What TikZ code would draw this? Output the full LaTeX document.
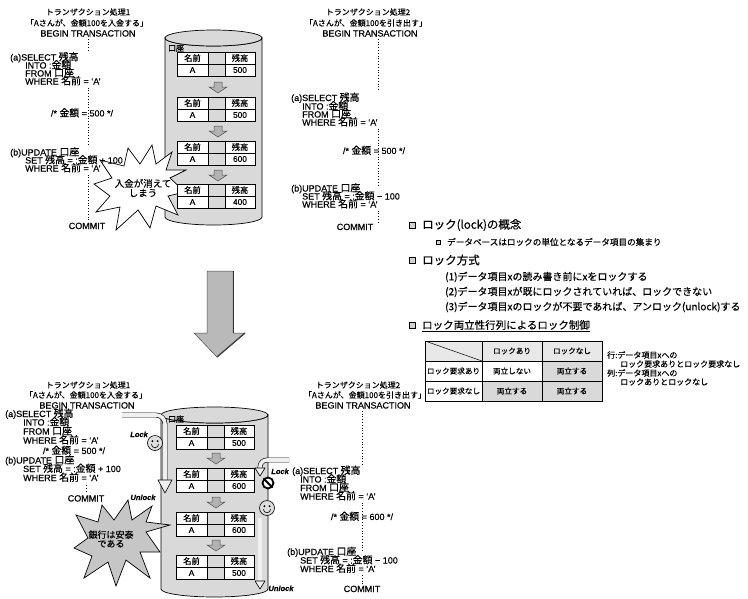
\documentclass[tikz,border=0pt]{standalone}
\usepackage{fontspec}
\setmainfont{Liberation Sans}[FakeBold=0.4]
\newfontfamily\jpf{Noto Sans CJK JP}[FakeBold=0.4]
\newfontfamily\jpcf{Noto Sans CJK JP}[Scale=1.1,FakeBold=0.4]
\newcommand\jcd[1]{{\jpcf #1}}
\newcommand\fsz[1]{\fontsize{#1}{#1}\selectfont}
\usetikzlibrary{calc}

\tikzset{
  code/.style={anchor=base west, inner sep=0pt, font=\fsz{9}},
  codemid/.style={anchor=base, inner sep=0pt, font=\fsz{9}},
  head/.style={anchor=base, inner sep=0pt, font=\jpf\fsz{8}},
  headlat/.style={anchor=base, inner sep=0pt, font=\fsz{9}},
  timeline/.style={line width=1pt, dash pattern=on 1pt off 1.8pt},
  drum/.style={fill=gray!30, draw=black, line width=0.7pt},
  tbl/.style={draw=black, line width=0.6pt},
  cell/.style={inner sep=0pt, font=\jpf\fsz{8.3}},
  celllat/.style={inner sep=0pt, font=\fsz{8.3}},
  tiny arrow/.style={fill=gray!60, draw=black!70, line width=0.5pt},
  burst/.style={draw=black, line width=0.7pt, line join=miter},
  bursttext/.style={inner sep=0pt, font=\jpf\fsz{9.5}, align=center},
  tube/.style={draw=black, double=gray!12, double distance=3.6pt, line width=0.6pt},
  tubehead/.style={fill=gray!12, draw=black, line width=0.6pt, line join=round},
  lockword/.style={inner sep=0pt, font=\bfseries\itshape\fsz{7.5}},
  face/.style={circle, draw=black, fill=gray!25, line width=0.6pt, minimum size=15pt, inner sep=0pt},
  nosign/.style={circle, draw=black, fill=white, line width=1.8pt, minimum size=11pt, inner sep=0pt},
  bigarrow/.style={fill=gray!55, draw=gray!60!black, line width=0.5pt},
  bul/.style={rectangle, draw=black, fill=gray!35, line width=0.4pt, minimum size=5.5pt, inner sep=0pt},
  subbul/.style={rectangle, draw=black, fill=gray!35, line width=0.4pt, minimum size=4.5pt, inner sep=0pt},
  heading/.style={anchor=west, inner sep=0pt, font=\jpf\fsz{11.5}},
  body/.style={anchor=west, inner sep=0pt, font=\jpf\fsz{10}},
  subbody/.style={anchor=west, inner sep=0pt, font=\jpf\fsz{8.6}},
  mtx/.style={inner sep=0pt, font=\jpf\fsz{7.6}},
  note/.style={anchor=west, inner sep=0pt, font=\jpf\fsz{8}},
}

% database drum: centre x, x radius, top y, bottom y, y radius
\newcommand\drumshape[5]{%
  \filldraw[drum] (#1-#2,#3) -- (#1-#2,#4)
     arc[start angle=180,end angle=0,x radius=#2,y radius=#5]
     -- (#1+#2,#3)
     arc[start angle=0,end angle=180,x radius=#2,y radius=#5] -- cycle;
  \filldraw[drum] (#1,#3) ellipse[x radius=#2,y radius=#5];}

% account table: name prefix, left x, top y, balance
\newcommand\acct[4]{%
  \begin{scope}[shift={(#2,#3)}]
    \fill[white] (0,0) rectangle (78,24);
    \fill[gray!30] (31,0) rectangle (48,24);
    \draw[tbl] (0,0) rectangle (78,24) (0,12) -- (78,12) (31,0) -- (31,24) (48,0) -- (48,24);
    \node[cell] (#1k) at (15.5,6) {名前};
    \node[cell] (#1b) at (63,6) {残高};
    \node[celllat] (#1n) at (15.5,18) {A};
    \node[celllat] (#1v) at (63,18) {#4};
  \end{scope}}

% small block arrow between table states
\newcommand\stepdown[2]{%
  \filldraw[tiny arrow] (#1-4,#2-5) -- (#1+4,#2-5) -- (#1+4,#2) -- (#1+9,#2)
    -- (#1,#2+6) -- (#1-9,#2) -- (#1-4,#2) -- cycle;}

% smiling face
\newcommand\smiley[3]{%
  \node[face] (#1) at (#2,#3) {};
  \fill ($(#1)+(-2.6,-1.8)$) circle[radius=1.1];
  \fill ($(#1)+(2.6,-1.8)$) circle[radius=1.1];
  \draw[line width=0.6pt] ($(#1)+(-3.6,1.2)$) arc[start angle=180,end angle=0,radius=3.6];}

\begin{document}
\begin{tikzpicture}[x=1pt,y=-1pt]
\useasboundingbox (0,0) rectangle (748,598);
\fill[white] (0,0) rectangle (748,598);

%% ---------------- upper scenario: lost update ----------------
\drumshape{213.5}{48.5}{38}{217}{8}
\node[cell, anchor=center, font=\jpf\fsz{8}] (acc1) at (176,48) {口座};

\filldraw[burst, fill=white] (186,170) -- (170,178) -- (185,192) -- (168,196) -- (178,215)
  -- (156,206) -- (150,228) -- (138,210) -- (116,230) -- (120,207) -- (96,212) -- (110,196)
  -- (94,184) -- (112,178) -- (100,160) -- (124,166) -- (128,148) -- (140,164) -- (152,145)
  -- (156,164) -- (172,152) -- (166,170) -- cycle;
\node[bursttext] (lost) at (143,188) {入金が消えて\\しまう};

\acct{ua}{177}{52}{500}
\acct{ub}{177}{97}{500}
\acct{uc}{177}{141}{600}
\acct{ud}{177}{184}{400}
\stepdown{218}{87}
\stepdown{218}{131}
\stepdown{218}{175}

% transaction 1
\coordinate (tl1) at (88,0);
\node[head] (h1a) at (88,15) {トランザクション処理1};
\node[head] (h1b) at (87,26) {「Aさんが、金額100を入金する」};
\node[headlat] (h1c) at (88,36.5) {BEGIN TRANSACTION};
\node[code] (a1s) at (10,60.5) {(a)SELECT \jcd{残高}};
\node[code] (a1i) at (25,68.5) {INTO :\jcd{金額}};
\node[code] (a1f) at (25,76.5) {FROM \jcd{口座}};
\node[code] (a1w) at (25,84.5) {WHERE \jcd{名前} = ‘A’};
\node[codemid] (m1) at (82,116.5) {/* \jcd{金額} = 500 */};
\node[code] (b1u) at (10,155.5) {(b)UPDATE \jcd{口座}};
\node[code] (b1s) at (25,163.5) {SET \jcd{残高} = :\jcd{金額} + 100};
\node[code] (b1w) at (25,171.5) {WHERE \jcd{名前} = ‘A’};
\node[codemid] (c1) at (87,229) {COMMIT};
\draw[timeline] ([yshift=-2pt]h1c.south -| tl1) -- ([yshift=1pt]a1s.north -| tl1);
\draw[timeline] ([yshift=-2pt]a1w.south -| tl1) -- ([yshift=1pt]b1u.north -| tl1);
\draw[timeline] ([yshift=-2pt]b1w.south -| tl1) -- ([yshift=1pt]c1.north -| tl1);

% transaction 2
\coordinate (tl2) at (378,0);
\node[head] (h2a) at (368,15) {トランザクション処理2};
\node[head] (h2b) at (366,26) {「Aさんが、金額100を引き出す」};
\node[headlat] (h2c) at (370,36.5) {BEGIN TRANSACTION};
\node[code] (a2s) at (291,101) {(a)SELECT \jcd{残高}};
\node[code] (a2i) at (302,109.5) {INTO :\jcd{金額}};
\node[code] (a2f) at (302,117.5) {FROM \jcd{口座}};
\node[code] (a2w) at (302,125.5) {WHERE \jcd{名前} = ‘A’};
\node[codemid] (m2) at (374,154) {/* \jcd{金額} = 500 */};
\node[code] (b2u) at (291,191.5) {(b)UPDATE \jcd{口座}};
\node[code] (b2s) at (302,199.5) {SET \jcd{残高} = :\jcd{金額} − 100};
\node[code] (b2w) at (302,207.5) {WHERE \jcd{名前} = ‘A’};
\node[codemid] (c2) at (355,230) {COMMIT};
\draw[timeline] ([yshift=-2pt]h2c.south -| tl2) -- ([yshift=1pt]a2s.north -| tl2);
\draw[timeline] ([yshift=-2pt]a2w.south -| tl2) -- ([yshift=-4pt]b2u.north -| tl2);
\draw[timeline] ([yshift=-2pt]b2w.south -| tl2) -- ([yshift=1pt]c2.north -| tl2);

%% ---------------- transition arrow ----------------
\filldraw[bigarrow] (207,271) -- (233,271) -- (233,333) -- (245,333) -- (217,357)
  -- (194,333) -- (207,333) -- cycle;
\draw[line width=1.3pt, black!75] (245,333) -- (217,357);
\draw[line width=0.8pt, gray!40!black] (233,271) -- (233,333);

%% ---------------- lock concept text ----------------
\node[bul] (k1) at (412,225) {};
\node[heading] (t1) at (422,225) {ロック(lock)の概念};
\node[subbul] (k1a) at (438,242) {};
\node[subbody] (t1a) at (447,242) {データベースはロックの単位となるデータ項目の集まり};
\node[bul] (k2) at (412,260) {};
\node[heading] (t2) at (422,260) {ロック方式};
\node[body] (t2a) at (445,277) {(1)データ項目xの読み書き前にxをロックする};
\node[body] (t2b) at (445,292) {(2)データ項目xが既にロックされていれば、ロックできない};
\node[body] (t2c) at (445,307) {(3)データ項目xのロックが不要であれば、アンロック(unlock)する};
\node[bul] (k3) at (412,325) {};
\node[heading, font=\jpf\fsz{10.5}] (t3) at (422,325) {ロック両立性行列によるロック制御};
\draw[line width=0.6pt] ([yshift=-1.5pt]t3.south west) -- ([yshift=-1.5pt]t3.south east);

% compatibility matrix
\fill[gray!18] (425,341) rectangle (602,361);
\fill[gray!30] (542,361) rectangle (602,381);
\fill[gray!30] (482,381) rectangle (602,401);
\draw[tbl] (425,341) rectangle (602,401)
  (425,361) -- (602,361) (425,381) -- (602,381)
  (482,341) -- (482,401) (542,341) -- (542,401);
\draw[line width=0.5pt] (425,341) -- (482,361);
\node[mtx] (c12) at (512,351) {ロックあり};
\node[mtx] (c13) at (572,351) {ロックなし};
\node[mtx] (c21) at (453.5,371) {ロック要求あり};
\node[mtx] (c22) at (512,371) {両立しない};
\node[mtx] (c23) at (572,371) {両立する};
\node[mtx] (c31) at (453.5,391) {ロック要求なし};
\node[mtx] (c32) at (512,391) {両立する};
\node[mtx] (c33) at (572,391) {両立する};
\node[note] (n1) at (607,355) {行:データ項目xへの};
\node[note] (n2) at (620,364) {ロック要求ありとロック要求なし};
\node[note] (n3) at (607,373) {列:データ項目xへの};
\node[note] (n4) at (620,382) {ロックありとロックなし};

%% ---------------- lower scenario: with locking ----------------
\drumshape{214.5}{53.5}{415}{589}{8}
\node[cell, anchor=center, font=\jpf\fsz{8}] (acc2) at (176,419) {口座};

\filldraw[burst, fill=gray!45] (170,525) -- (146,532) -- (160,552) -- (140,552) -- (150,578)
  -- (126,560) -- (116,586) -- (108,562) -- (84,578) -- (92,556) -- (74,548) -- (88,538)
  -- (76,515) -- (98,522) -- (102,505) -- (114,520) -- (128,500) -- (132,520) -- (152,506)
  -- (146,522) -- cycle;
\node[bursttext, font=\jpf\fsz{9}] (safe) at (111,539) {銀行は安泰\\である};

\acct{la}{176}{425}{500}
\acct{lb}{176}{468}{600}
\acct{lc}{176}{512}{600}
\acct{ld}{176}{555}{500}
\stepdown{216}{458}
\stepdown{216}{502}
\stepdown{216}{545}

% transaction 1 with lock
\coordinate (tl3) at (86,0);
\node[head] (h3a) at (88,388) {トランザクション処理1};
\node[head] (h3b) at (86,398) {「Aさんが、金額100を入金する」};
\node[headlat] (h3c) at (87,408.5) {BEGIN TRANSACTION};
\node[code] (a3s) at (5,417) {(a)SELECT \jcd{残高}};
\node[code] (a3i) at (23,425.5) {INTO :\jcd{金額}};
\node[code] (a3f) at (23,434.5) {FROM \jcd{口座}};
\node[code] (a3w) at (23,443.5) {WHERE \jcd{名前} = ‘A’};
\node[codemid] (m3) at (74,454) {/* \jcd{金額} = 500 */};
\node[code] (b3u) at (5,463.5) {(b)UPDATE \jcd{口座}};
\node[code] (b3s) at (23,472) {SET \jcd{残高} = :\jcd{金額} + 100};
\node[code] (b3w) at (23,481) {WHERE \jcd{名前} = ‘A’};
\node[codemid] (c3) at (86,501.5) {COMMIT};
\draw[timeline] ([yshift=-3pt]b3w.south -| tl3) -- ([yshift=2pt]c3.north -| tl3);

\draw[tube] (122,415) -- (156,415) arc[start angle=270,end angle=360,radius=9] -- (165,481);
\filldraw[tubehead] (158,480) -- (172,480) -- (165,493) -- cycle;
\node[lockword, anchor=base east] (lk1) at (148,437) {Lock};
\smiley{f1}{155}{443}
\node[lockword, anchor=base] (ul1) at (143,500) {Unlock};

% transaction 2 with lock
\coordinate (tl4) at (362,0);
\node[head] (h4a) at (358,388) {トランザクション処理2};
\node[head] (h4b) at (365,398) {「Aさんが、金額100を引き出す」};
\node[headlat] (h4c) at (363,408.5) {BEGIN TRANSACTION};
\node[code] (a4s) at (292,474) {(a)SELECT \jcd{残高}};
\node[code] (a4i) at (300,482.5) {INTO :\jcd{金額}};
\node[code] (a4f) at (300,491) {FROM \jcd{口座}};
\node[code] (a4w) at (300,499.5) {WHERE \jcd{名前} = ‘A’};
\node[codemid] (m4) at (362,520) {/* \jcd{金額} = 600 */};
\node[code] (b4u) at (287,555) {(b)UPDATE \jcd{口座}};
\node[code] (b4s) at (300,563.5) {SET \jcd{残高} = :\jcd{金額} − 100};
\node[code] (b4w) at (300,572) {WHERE \jcd{名前} = ‘A’};
\node[codemid] (c4) at (362,592) {COMMIT};
\draw[timeline] ([yshift=-2pt]h4c.south -| tl4) -- ([yshift=1pt]a4s.north -| tl4);
\draw[timeline] ([yshift=-2pt]a4w.south -| tl4) -- ([yshift=-4pt]b4u.north -| tl4);
\draw[timeline] ([yshift=-2pt]b4w.south -| tl4) -- ([yshift=1pt]c4.north -| tl4);

\draw[tube] (289,460) -- (267,460) arc[start angle=270,end angle=180,radius=7] -- (260,469);
\filldraw[tubehead] (255,468) -- (265,468) -- (260,476) -- cycle;
\node[lockword, anchor=base east] (lk2) at (289,474) {Lock};
\node[nosign] (ban) at (268,483) {};
\draw[line width=1.8pt] (ban.north west) -- (ban.south east);
\smiley{f2}{267}{508}
\draw[tube] (260,518) -- (260,582);
\filldraw[tubehead] (255,581) -- (265,581) -- (260,589) -- cycle;
\node[lockword, anchor=base] (ul2) at (281,591) {Unlock};
\end{tikzpicture}
\end{document}
